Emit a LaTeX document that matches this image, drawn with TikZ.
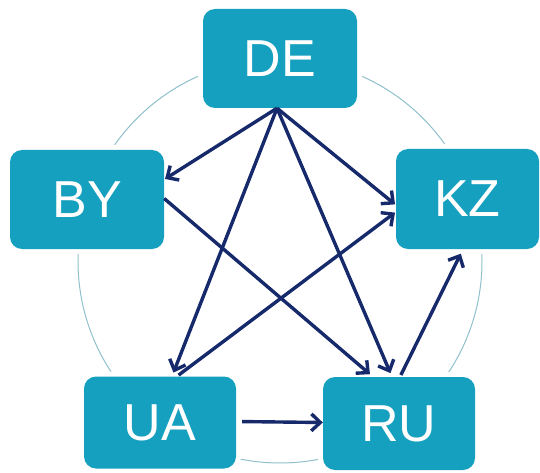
\documentclass[tikz,border=0pt]{standalone}
\usepackage{fontspec}
\setmainfont{Liberation Sans}
\usetikzlibrary{arrows.meta}
\definecolor{boxteal}{HTML}{14A0BE}
\definecolor{navy}{HTML}{15296B}
\definecolor{ringblue}{HTML}{8FC0CC}
\begin{document}
\begin{tikzpicture}[x=1pt,y=-1pt,
  cbox/.style={rectangle, rounded corners=12pt, fill=boxteal, text=white,
    font=\fontsize{52}{52}\selectfont, inner sep=0pt,
    preaction={draw=white, line width=10pt}},
  link/.style={draw=navy, line width=3.4pt,
    -{Straight Barb[length=9pt,width=17pt,line width=3.4pt]}}]
\useasboundingbox (0,0) rectangle (540,473);
\draw[ringblue, line width=1pt] (280,261) circle[radius=202];
\node[cbox, minimum width=154pt, minimum height=99pt] (de) at (280,58.5) {DE};
\node[cbox, minimum width=154pt, minimum height=99pt] (by) at (87,199.5) {BY};
\node[cbox, minimum width=143pt, minimum height=100pt] (kz) at (467.5,199) {KZ};
\node[cbox, minimum width=152pt, minimum height=92pt] (ua) at (160,422.5) {UA};
\node[cbox, minimum width=152pt, minimum height=93pt] (ru) at (399,423.5) {RU};
\draw[link, shorten >=1pt] ([xshift=-3pt]de.south) -- ([yshift=20pt]by.east);
\draw[link, shorten >=1pt] ([xshift=-3pt]de.south) -- ([yshift=-6pt]kz.west);
\draw[link, shorten >=4pt] ([xshift=-3pt]de.south) -- ([xshift=12pt]ua.north);
\draw[link, shorten >=4pt] ([xshift=-3pt]de.south) -- ([xshift=-7pt]ru.north);
\draw[link, shorten >=4pt] ([yshift=1pt]by.east) -- ([xshift=-26pt]ru.north);
\draw[link, shorten <=2pt, shorten >=1pt] ([xshift=17pt]ua.north) -- ([yshift=-13pt]kz.west);
\draw[link, shorten <=2pt, shorten >=5pt] ([xshift=1pt]ru.north) -- ([xshift=-4.5pt]kz.south);
\draw[link, shorten <=6pt] ([yshift=1pt]ua.east) -- ([yshift=1pt]ru.west);
\end{tikzpicture}
\end{document}
